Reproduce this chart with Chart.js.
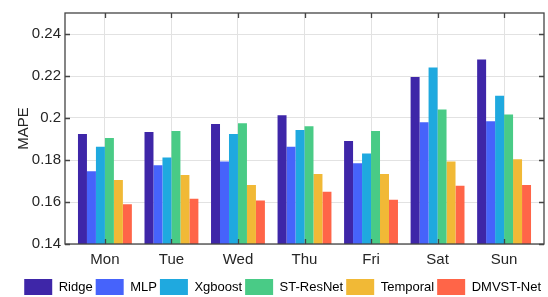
<!DOCTYPE html>
<html>
<head>
<meta charset="utf-8">
<script src="https://cdn.jsdelivr.net/npm/chart.js@4"></script>
<style>
  html, body { margin: 0; padding: 0; background: #fff; }
  #wrap { width: 548px; height: 297px; }
</style>
</head>
<body>
<div id="wrap"><canvas id="c" width="548" height="297"></canvas></div>
<script>
// MAPE per weekday for each model
const days = ['Mon', 'Tue', 'Wed', 'Thu', 'Fri', 'Sat', 'Sun'];
const models = ['Ridge', 'MLP', 'Xgboost', 'ST-ResNet', 'Temporal', 'DMVST-Net'];
const ridge    = [0.1924, 0.1933, 0.1971, 0.2013, 0.1891, 0.2195, 0.2279];
const mlp      = [0.1747, 0.1775, 0.1793, 0.1863, 0.1784, 0.1980, 0.1985];
const xgboost  = [0.1863, 0.1812, 0.1924, 0.1943, 0.1831, 0.2241, 0.2106];
const stResnet = [0.1905, 0.1938, 0.1975, 0.1961, 0.1938, 0.2041, 0.2017];
const temporal = [0.1705, 0.1728, 0.1681, 0.1733, 0.1733, 0.1793, 0.1803];
const dmvst    = [0.1589, 0.1616, 0.1607, 0.1649, 0.1611, 0.1677, 0.1681];
const yTicks = [0.14, 0.16, 0.18, 0.2, 0.22, 0.24];
const yTickLabels = ['0.14', '0.16', '0.18', '0.2', '0.22', '0.24'];

const colors = ['#3e26a8', '#4663fb', '#1fa9df', '#49cb86', '#f1b936', '#ff6548'];
const series = [ridge, mlp, xgboost, stResnet, temporal, dmvst];
const axisColor = '#262626';
const fontFamily = '"Liberation Sans", Arial, sans-serif';

// box around the plot with inward ticks, like matlab's "box on"
const framePlugin = {
    id: 'frame',
    afterDraw(chart) {
        const { ctx, chartArea: a, scales } = chart;
        ctx.save();
        ctx.strokeStyle = '#444';
        ctx.lineWidth = 1.3;
        ctx.strokeRect(a.left, a.top, a.right - a.left, a.bottom - a.top);
        ctx.beginPath();
        const len = 5;
        days.forEach((d, i) => {
            const x = Math.round(scales.x.getPixelForValue(i + 1)) + 0.5;
            ctx.moveTo(x, a.bottom); ctx.lineTo(x, a.bottom - len);
            ctx.moveTo(x, a.top); ctx.lineTo(x, a.top + len);
        });
        yTicks.forEach(v => {
            const y = Math.round(scales.y.getPixelForValue(v)) + 0.5;
            ctx.moveTo(a.left, y); ctx.lineTo(a.left + len, y);
            ctx.moveTo(a.right, y); ctx.lineTo(a.right - len, y);
        });
        ctx.stroke();
        ctx.restore();
    }
};

new Chart(document.getElementById('c'), {
    type: 'bar',
    data: {
        datasets: models.map((m, k) => ({
            label: m,
            data: series[k].map((v, i) => ({ x: i + 1, y: v })),
            backgroundColor: colors[k],
            borderWidth: 0,
            categoryPercentage: 0.81,
            barPercentage: 1.0
        }))
    },
    options: {
        responsive: false,
        animation: false,
        layout: { padding: { left: 0, right: 4, top: 7, bottom: -8 } },
        plugins: {
            legend: {
                position: 'bottom',
                align: 'end',
                labels: {
                    boxWidth: 28,
                    boxHeight: 16,
                    padding: 3,
                    color: '#000',
                    font: { family: fontFamily, size: 13 }
                }
            },
            tooltip: { enabled: false }
        },
        scales: {
            x: {
                type: 'linear',
                min: 0.4,
                max: 7.6,
                offset: false,
                grid: { offset: false, color: '#e2e2e2', drawTicks: false },
                border: { display: false },
                afterBuildTicks: s => { s.ticks = days.map((d, i) => ({ value: i + 1 })); },
                afterFit: s => { s.height = 32; },
                ticks: {
                    padding: 7,
                    color: axisColor,
                    font: { family: fontFamily, size: 15 },
                    maxRotation: 0,
                    callback: (v, i) => days[i]
                }
            },
            y: {
                min: 0.14,
                max: 0.25,
                grid: { color: '#e2e2e2', drawTicks: false },
                border: { display: false },
                afterBuildTicks: s => { s.ticks = yTicks.map(v => ({ value: v })); },
                afterFit: s => { s.width = 65; },
                ticks: {
                    padding: 4,
                    color: axisColor,
                    font: { family: fontFamily, size: 15 },
                    callback: (v, i) => yTickLabels[i]
                },
                title: {
                    display: true,
                    text: 'MAPE',
                    color: axisColor,
                    font: { family: fontFamily, size: 15 },
                    padding: { top: 15, bottom: 0 }
                }
            }
        }
    },
    plugins: [framePlugin]
});
</script>
</body>
</html>
